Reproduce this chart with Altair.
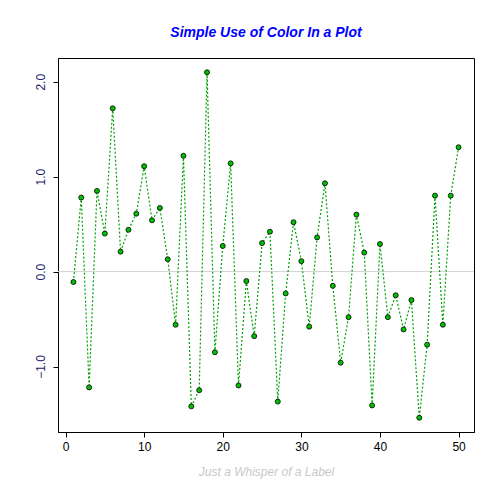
import altair as alt
import pandas as pd

xs = list(range(1, 51))
ys = [-0.11, 0.78, -1.22, 0.85, 0.40, 1.72, 0.21, 0.44, 0.61, 1.11,
      0.54, 0.67, 0.13, -0.56, 1.22, -1.42, -1.25, 2.10, -0.85, 0.27,
      1.14, -1.20, -0.10, -0.68, 0.30, 0.42, -1.37, -0.23, 0.52, 0.11,
      -0.58, 0.36, 0.93, -0.15, -0.96, -0.48, 0.60, 0.20, -1.41, 0.29,
      -0.48, -0.25, -0.61, -0.30, -1.54, -0.77, 0.80, -0.56, 0.80, 1.31]

df = pd.DataFrame({"x": xs, "y": ys})

xscale = alt.Scale(domain=[-0.96, 51.96], nice=False, zero=False)
yscale = alt.Scale(domain=[-1.69, 2.25], nice=False, zero=False)

base = alt.Chart(df).encode(
    x=alt.X("x:Q", scale=xscale,
            axis=alt.Axis(values=[0, 10, 20, 30, 40, 50], title="Just a Whisper of a Label",
                          titleColor="#c8c8c8", titleFontStyle="italic", titleFontWeight="normal",
                          titleFont="Liberation Sans", titleFontSize=12, titlePadding=14,
                          labelColor="black", labelFontSize=12, labelFont="Liberation Sans",
                          grid=False, tickColor="black", domainColor="black", labelPadding=4)),
    y=alt.Y("y:Q", scale=yscale,
            axis=alt.Axis(values=[-1, 0, 1, 2], title=None, labelAngle=270,
                          labelColor="#1a1a6e", labelFontSize=12, labelFont="Liberation Sans",
                          labelAlign="center", labelBaseline="bottom", labelPadding=6,
                          grid=False, tickColor="black", domainColor="black")),
)

zero = alt.Chart(pd.DataFrame({"y": [0]})).mark_rule(color="#d3d3d3").encode(
    y=alt.Y("y:Q", scale=yscale))

line = base.mark_line(color="#00a000", strokeDash=[2, 2], strokeWidth=1.2)
pts = base.mark_point(filled=True, shape="circle", size=25, fill="#00c000",
                      stroke="black", strokeWidth=0.8, opacity=1)

chart = (zero + line + pts).properties(
    width=416, height=374,
    title=alt.Title("Simple Use of Color In a Plot", color="blue", fontStyle="italic",
                    fontWeight="bold", fontSize=14, font="Liberation Sans", offset=18),
    autosize=alt.AutoSizeParams(type="none"),
    padding={"left": 50, "top": 50, "right": 22, "bottom": 64},
).configure_view(stroke="black", strokeWidth=1)

chart.save("out.html", embed_options={"renderer": "svg", "actions": False})
